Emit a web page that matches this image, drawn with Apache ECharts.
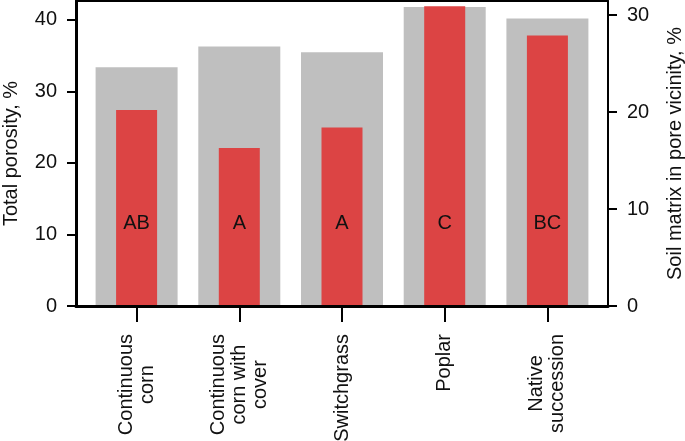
<!DOCTYPE html>
<html>
<head>
<meta charset="utf-8">
<script src="https://cdn.jsdelivr.net/npm/echarts@6/dist/echarts.min.js"></script>
<style>html,body{margin:0;padding:0;background:#fff}#c{width:685px;height:441px}</style>
</head>
<body>
<div id="c"></div>
<script>
const categories = ["Continuous\ncorn", "Continuous\ncorn with\ncover", "Switchgrass", "Poplar", "Native\nsuccession"];
const totalPorosity = [33.4, 36.3, 35.5, 41.8, 40.2];
const soilMatrix = [20.2, 16.3, 18.4, 30.9, 27.9];
const letters = ["AB", "A", "A", "C", "BC"];
const leftTicks = [0, 10, 20, 30, 40];
const rightTicks = [0, 10, 20, 30];
const catIndex = categories.map((c, i) => i);

const FONT = "'Liberation Sans', Arial, Helvetica, sans-serif";
const INK = '#000';
const FS = 20;
const X_MIN = -0.59, X_MAX = 4.59;
const chart = echarts.init(document.getElementById('c'), null, {renderer: 'canvas'});

const ls = (w) => ({color: INK, width: w || 2, type: 'solid'});

chart.setOption({
  animation: false,
  grid: {left: 76, right: 77, top: 1, bottom: 135, outerBoundsMode: 'none', containLabel: false},
  xAxis: [
    {
      type: 'value', min: X_MIN, max: X_MAX, position: 'bottom', z: 10,
      splitLine: {show: false},
      axisLine: {show: true, onZero: false, lineStyle: ls(3)},
      axisTick: {show: true, length: 16, customValues: catIndex, lineStyle: ls()},
      axisLabel: {
        show: true, customValues: catIndex, rotate: 90, margin: 28,
        fontFamily: FONT, fontSize: FS, color: '#111',
        formatter: v => {
          const i = Math.round(v);
          return categories[i].split('\n').map(l => '{c|' + l + '}').join('\n');
        },
        rich: {c: {align: 'center', fontFamily: FONT, fontSize: FS, lineHeight: 21, color: '#111'}}
      }
    },
    {
      type: 'value', min: X_MIN, max: X_MAX, position: 'top', z: 10,
      splitLine: {show: false},
      axisLine: {show: true, onZero: false, lineStyle: ls()},
      axisTick: {show: false},
      axisLabel: {show: false}
    }
  ],
  yAxis: [
    {
      type: 'value', min: 0, max: 42.65, position: 'left', z: 10,
      name: 'Total porosity, %', nameLocation: 'middle', nameGap: 55,
      nameTextStyle: {fontFamily: FONT, fontSize: FS, color: '#111'},
      splitLine: {show: false},
      axisLine: {show: true, onZero: false, lineStyle: ls(3)},
      axisTick: {show: true, length: 9, customValues: leftTicks, lineStyle: ls()},
      axisLabel: {customValues: leftTicks, margin: 19, fontFamily: FONT, fontSize: FS, color: '#111'}
    },
    {
      type: 'value', min: 0, max: 31.45, position: 'right', z: 10,
      name: 'Soil matrix in pore vicinity, %', nameLocation: 'middle', nameGap: 57,
      nameTextStyle: {fontFamily: FONT, fontSize: FS, color: '#111'},
      splitLine: {show: false},
      axisLine: {show: true, onZero: false, lineStyle: ls()},
      axisTick: {show: true, length: 9, customValues: rightTicks, lineStyle: ls()},
      axisLabel: {customValues: rightTicks, margin: 19, fontFamily: FONT, fontSize: FS, color: '#111'}
    }
  ],
  series: [
    {
      type: 'bar', xAxisIndex: 0, yAxisIndex: 0, barWidth: 82, z: 2,
      itemStyle: {color: '#bfbfbf'},
      data: totalPorosity.map((v, i) => [i, v])
    },
    {
      type: 'bar', xAxisIndex: 1, yAxisIndex: 1, barWidth: 41, z: 3,
      itemStyle: {color: '#dc4444'},
      label: {
        show: true, position: 'insideBottom', distance: 73,
        fontFamily: FONT, fontSize: FS, color: '#111',
        formatter: p => letters[p.dataIndex]
      },
      data: soilMatrix.map((v, i) => [i, v])
    }
  ]
});
</script>
</body>
</html>
